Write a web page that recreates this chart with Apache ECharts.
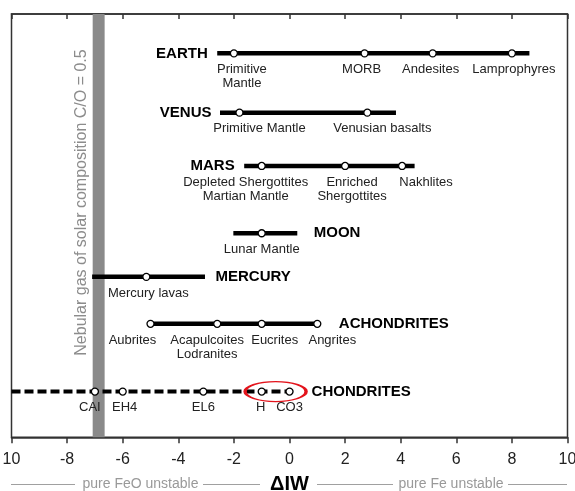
<!DOCTYPE html>
<html><head><meta charset="utf-8">
<style>html,body{margin:0;padding:0;background:#fff}#c{width:575px;height:491px}</style>
<script src="https://cdn.jsdelivr.net/npm/echarts@6/dist/echarts.min.js"></script>
</head><body><div id="c"></div>
<script>
// ---------- data ----------
const groups = ['EARTH', 'VENUS', 'MARS', 'MOON', 'MERCURY', 'ACHONDRITES', 'CHONDRITES'];
const rowLevels = [9.07, 7.67, 6.41, 4.82, 3.79, 2.68, 1.08];
const rangeStart = [-2.6, -2.5, -1.63, -2.02, -7.1, -5.0, -10];
const rangeEnd = [8.63, 3.83, 4.5, 0.28, -3.04, 1.0, 0.13];
const earthX = [-2.0, 2.7, 5.15, 8.0];
const earthNames = ['Primitive\nMantle', 'MORB', 'Andesites', 'Lamprophyres'];
const venusX = [-1.8, 2.8];
const venusNames = ['Primitive Mantle', 'Venusian basalts'];
const marsX = [-1.0, 2.0, 4.05];
const marsNames = ['Depleted Shergottites\nMartian Mantle', 'Enriched\nShergottites', 'Nakhlites'];
const moonX = [-1.0];
const moonNames = ['Lunar Mantle'];
const mercuryX = [-5.15];
const mercuryNames = ['Mercury lavas'];
const achondriteX = [-5.0, -2.6, -1.0, 1.0];
const achondriteNames = ['Aubrites', 'Acapulcoites\nLodranites', 'Eucrites', 'Angrites'];
const chondriteX = [-7.0, -6.0, -3.1, -1.0, 0.0];
const chondriteNames = ['CAI', 'EH4', 'EL6', 'H', 'CO3'];
const nebularBand = [-7.08, -6.65];
const highlightX = -0.5;
const xTickLabels = ['10', '-8', '-6', '-4', '-2', '0', '2', '4', '6', '8', '10'];
const bandText = 'Nebular gas of solar composition C/O = 0.5';
const leftNote = 'pure FeO unstable';
const rightNote = 'pure Fe unstable';
const axisTitle = 'ΔIW';

// ---------- layout / style ----------
const pointXs = [earthX, venusX, marsX, moonX, mercuryX, achondriteX, chondriteX];
const pointNames = [earthNames, venusNames, marsNames, moonNames, mercuryNames, achondriteNames, chondriteNames];
const labelShift = [[8, -3, -2, 2], [20, 15], [-16, 7, 24], [0], [2], [-18, -10, 13, 15], [-5, 2, 0, -1, 0]];
const titleSide = ['left', 'left', 'left', 'right', 'right', 'right', 'right'];
const titleGap = [9, 8, 9, 16, 10, 21, 18];
const FONT = '"Liberation Sans", Arial, sans-serif';

const series = [];
// title labels + gray band
series.push({
  type: 'scatter', z: 1, symbolSize: 1, silent: true,
  itemStyle: { color: 'rgba(0,0,0,0)', opacity: 1 },
  label: { show: true, formatter: '{b}', fontSize: 15, fontWeight: 'bold', color: '#000', fontFamily: FONT },
  data: groups.map((g, i) => ({
    name: g,
    value: [titleSide[i] === 'left' ? rangeStart[i] : rangeEnd[i], rowLevels[i]],
    label: { position: titleSide[i], distance: titleGap[i] }
  })),
  markArea: {
    silent: true, itemStyle: { color: '#8a8a8a', opacity: 1 },
    data: [[{ xAxis: nebularBand[0] }, { xAxis: nebularBand[1] }]]
  }
});
// range bars
groups.forEach((g, i) => {
  const dashed = g === 'CHONDRITES';
  series.push({
    type: 'line', z: 2, symbol: 'none', silent: true,
    lineStyle: { color: '#000', width: dashed ? 4 : 4.5, type: dashed ? [9, 4] : 'solid', cap: 'butt', opacity: 1 },
    data: [[rangeStart[i], rowLevels[i]], [rangeEnd[i], rowLevels[i]]]
  });
});
// points
const pts = [];
groups.forEach((g, i) => {
  pointXs[i].forEach((x, j) => {
    pts.push({ name: pointNames[i][j], value: [x, rowLevels[i]], label: { offset: [labelShift[i][j], 0] } });
  });
});
series.push({
  type: 'scatter', z: 4, symbol: 'circle', symbolSize: 7, silent: true,
  itemStyle: { color: '#fff', borderColor: '#000', borderWidth: 1.3, opacity: 1 },
  label: { show: true, position: 'bottom', distance: 5, formatter: '{b}', fontSize: 13, lineHeight: 14, color: '#222', fontFamily: FONT },
  data: pts
});
// red highlight ellipse
series.push({
  type: 'scatter', z: 5, silent: true,
  symbol: 'path://M0,10 A10,10 0 1,1 20,10 A10,10 0 1,1 0,10 Z',
  symbolSize: [61, 20],
  itemStyle: { color: 'rgba(0,0,0,0)', borderColor: '#e3141c', borderWidth: 2, opacity: 1 },
  data: [[highlightX, rowLevels[6]]]
});

const chart = echarts.init(document.getElementById('c'), null, { renderer: 'canvas' });
chart.setOption({
  animation: false,
  grid: { left: 11.5, right: 7.5, top: 14, bottom: 53.7, containLabel: false, outerBoundsMode: 'none',
    show: true, borderColor: '#333', borderWidth: 1.5, backgroundColor: 'transparent' },
  xAxis: [
    {
      type: 'value', position: 'bottom', min: -10, max: 10, interval: 2,
      axisLine: { show: true, lineStyle: { color: '#333', width: 1.5 } },
      axisTick: { show: true, inside: false, length: 6, lineStyle: { color: '#333', width: 1.5 } },
      axisLabel: { margin: 14, fontSize: 16, color: '#222', fontFamily: FONT, hideOverlap: false,
        formatter: v => xTickLabels[Math.round((v + 10) / 2)] },
      splitLine: { show: false },
      name: axisTitle, nameLocation: 'middle', nameGap: 37,
      nameTextStyle: { fontSize: 20, fontWeight: 'bold', color: '#000', fontFamily: FONT }
    },
    {
      type: 'value', position: 'top', min: -10, max: 10, interval: 2,
      axisLine: { show: true, lineStyle: { color: '#333', width: 1.5 } },
      axisTick: { show: true, inside: true, length: 5, lineStyle: { color: '#333', width: 1.5 } },
      axisLabel: { show: false }, splitLine: { show: false }
    }
  ],
  yAxis: { type: 'value', min: 0, max: 10, show: false, splitLine: { show: false } },
  graphic: [
    { type: 'text', x: 82, y: 202.5, rotation: Math.PI / 2, silent: true, z: 1,
      style: { text: bandText, fill: '#8c8c8c', fontSize: 16, fontFamily: FONT, align: 'center', verticalAlign: 'middle' } },
    { type: 'line', shape: { x1: 11, y1: 484.5, x2: 75, y2: 484.5 }, style: { stroke: '#a0a0a0', lineWidth: 1 } },
    { type: 'text', x: 140.5, y: 484.5, style: { text: leftNote, fill: '#999', fontSize: 14, fontFamily: FONT, align: 'center', verticalAlign: 'middle' } },
    { type: 'line', shape: { x1: 203, y1: 484.5, x2: 260, y2: 484.5 }, style: { stroke: '#a0a0a0', lineWidth: 1 } },
    { type: 'line', shape: { x1: 317, y1: 484.5, x2: 393, y2: 484.5 }, style: { stroke: '#a0a0a0', lineWidth: 1 } },
    { type: 'text', x: 451, y: 484.5, style: { text: rightNote, fill: '#999', fontSize: 14, fontFamily: FONT, align: 'center', verticalAlign: 'middle' } },
    { type: 'line', shape: { x1: 508, y1: 484.5, x2: 567, y2: 484.5 }, style: { stroke: '#a0a0a0', lineWidth: 1 } }
  ],
  series: series
});
</script></body></html>
